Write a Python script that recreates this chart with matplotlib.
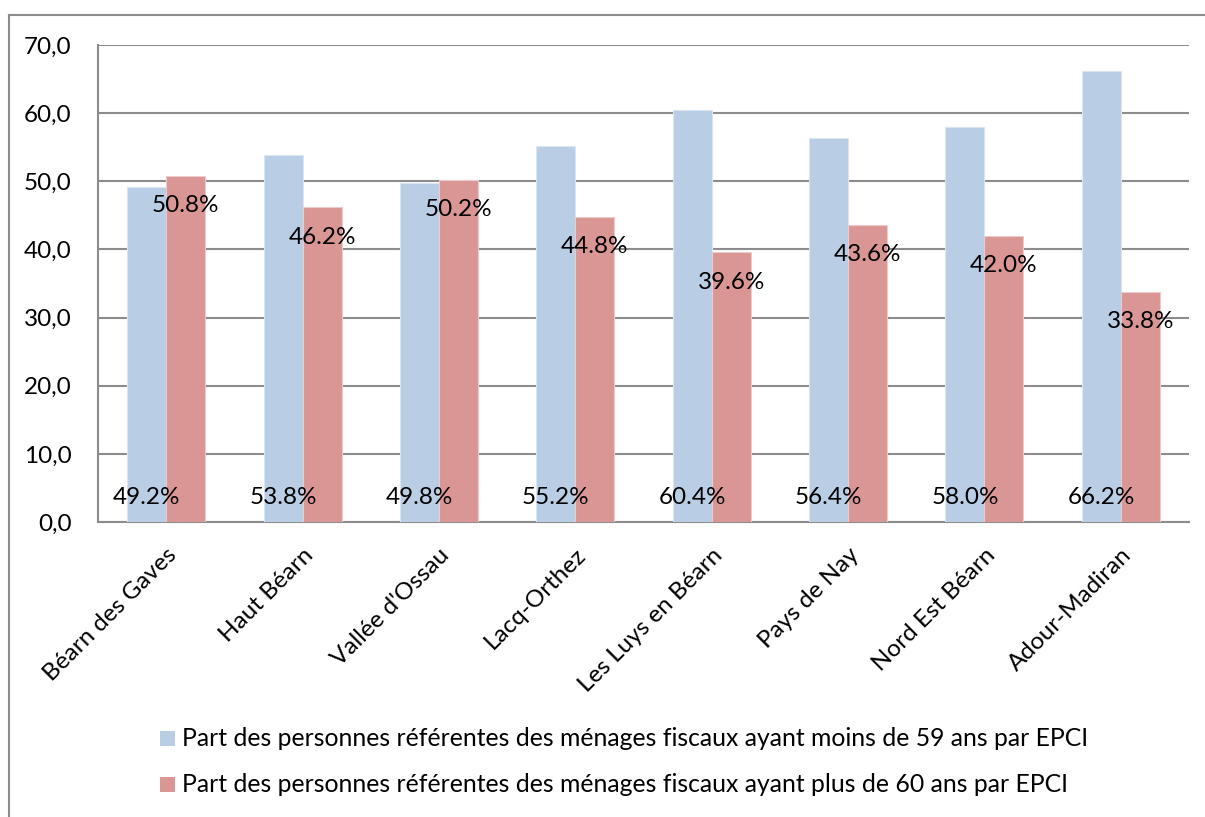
import matplotlib.pyplot as plt
import numpy as np
from matplotlib.lines import Line2D
from matplotlib.patches import Rectangle

plt.rcParams['font.family'] = ['Lato', 'DejaVu Sans']

categories = ["Béarn des Gaves", "Haut Béarn", "Vallée d'Ossau", "Lacq-Orthez",
              "Les Luys en Béarn", "Pays de Nay", "Nord Est Béarn", "Adour-Madiran"]
moins_59 = [49.2, 53.8, 49.8, 55.2, 60.4, 56.4, 58.0, 66.2]
plus_60 = [50.8, 46.2, 50.2, 44.8, 39.6, 43.6, 42.0, 33.8]
legend_labels = [
    "Part des personnes référentes des ménages fiscaux ayant moins de 59 ans par EPCI",
    "Part des personnes référentes des ménages fiscaux ayant plus de 60 ans par EPCI",
]
yticks = [0, 10, 20, 30, 40, 50, 60, 70]

blue = "#B9CDE5"
red = "#D99694"
grid_c = "#8C8C8C"
fs = 17.5

W, H = 1205, 817
fig = plt.figure(figsize=(W / 100, H / 100), dpi=100)
ax = fig.add_axes([98 / W, 1 - 522 / H, (1189 - 98) / W, (522 - 45) / H])

x = np.arange(len(categories))
bw = 1 / 3.5
ax.bar(x - bw / 2, moins_59, bw, color=blue, edgecolor="#DCE6F2", linewidth=0.8, zorder=3)
ax.bar(x + bw / 2, plus_60, bw, color=red, edgecolor="#EDCBCA", linewidth=0.8, zorder=3)

ax.set_xlim(-0.5, len(categories) - 0.5)
ax.set_ylim(0, 70)
ax.set_yticks(yticks)
ax.set_yticklabels([f"{v:.1f}".replace(".", ",") for v in yticks], fontsize=fs)
ax.set_xticks(x)
ax.set_xticklabels(categories, rotation=45, ha="right", rotation_mode="anchor", fontsize=fs)
ax.tick_params(axis="both", length=0)
ax.tick_params(axis="y", pad=19)
ax.tick_params(axis="x", pad=16)

ax.yaxis.grid(True, color=grid_c, linewidth=1.5, zorder=0)
ax.set_axisbelow(True)
for s in ["top", "right"]:
    ax.spines[s].set_visible(False)
for s in ["left", "bottom"]:
    ax.spines[s].set_color(grid_c)
    ax.spines[s].set_linewidth(1.5)

# value labels: base of the first series, inside end of the second
for xi, v in zip(x, moins_59):
    ax.annotate(f"{v:.1f}%", (xi - bw / 2, 0), xytext=(0, 25), textcoords="offset pixels",
                ha="center", va="center", fontsize=fs, zorder=5)
for xi, v in zip(x, plus_60):
    ax.annotate(f"{v:.1f}%", (xi + bw / 2, v), xytext=(0, -30), textcoords="offset pixels",
                ha="center", va="center", fontsize=fs, zorder=5)

# legend
for i, (lab, col) in enumerate(zip(legend_labels, [blue, red])):
    yc = 739 + i * 46
    fig.patches.append(Rectangle((160 / W, 1 - (yc + 7) / H), 15 / W, 15 / H,
                                 transform=fig.transFigure, facecolor=col, edgecolor="none"))
    fig.text(182 / W, 1 - yc / H, lab, ha="left", va="center", fontsize=17.8)

# chart frame
fig.add_artist(Line2D([9 / W, 1], [1 - 15 / H, 1 - 15 / H], transform=fig.transFigure,
                      color=grid_c, linewidth=1.5))
fig.add_artist(Line2D([9 / W, 9 / W], [0, 1 - 15 / H], transform=fig.transFigure,
                      color=grid_c, linewidth=1.5))

fig.savefig("out.png", dpi=100)
